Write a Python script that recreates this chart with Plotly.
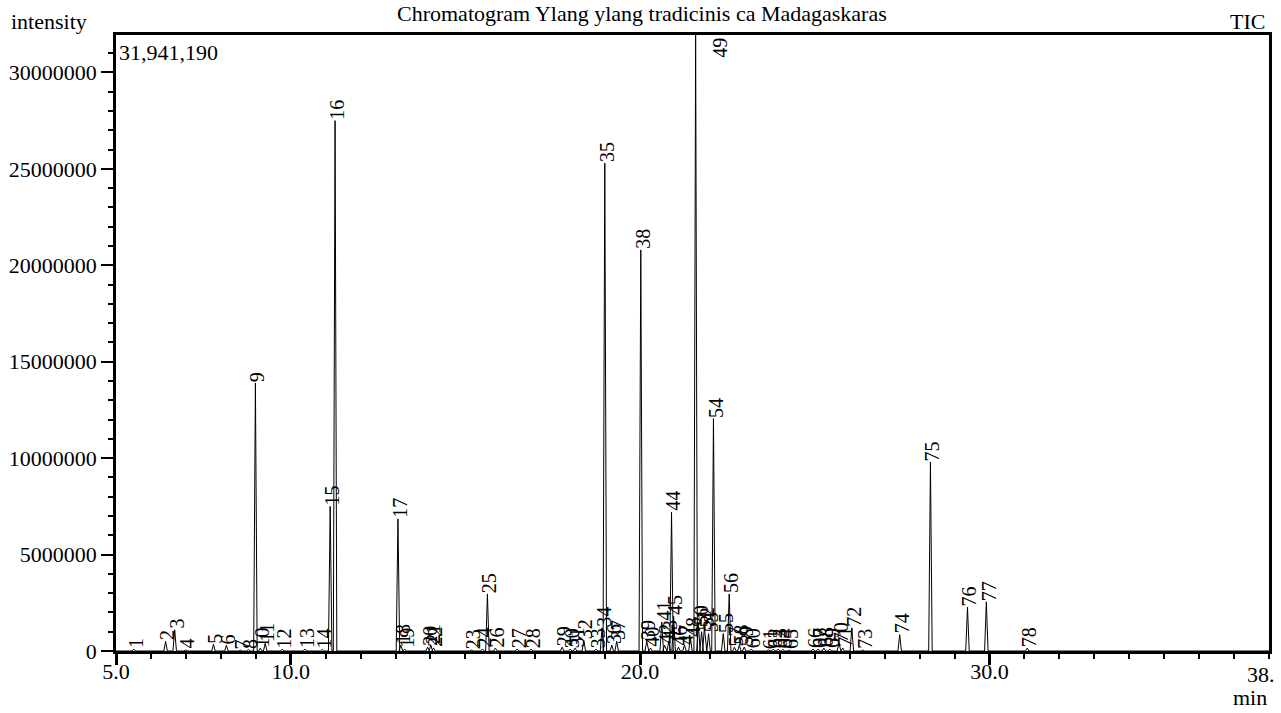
import plotly.graph_objects as go

# ---- data ----
peak_labels = [str(i) for i in range(1, 79)]
peak_rt = [5.51, 6.42, 6.68, 6.99, 7.79, 8.16, 8.56, 8.79, 8.99, 9.13,
           9.27, 9.76, 10.41, 10.90, 11.13, 11.27, 13.07, 13.15, 13.26, 13.92,
           14.01, 14.09, 15.17, 15.49, 15.63, 15.86, 16.48, 16.88, 17.77, 18.00,
           18.14, 18.39, 18.74, 18.91, 18.99, 19.19, 19.33, 20.02, 20.19, 20.30,
           20.62, 20.70, 20.82, 20.90, 20.96, 21.10, 21.27, 21.44, 21.59, 21.67,
           21.76, 21.84, 21.96, 22.10, 22.38, 22.55, 22.70, 22.84, 22.98, 23.18,
           23.67, 23.81, 23.95, 24.09, 24.26, 24.95, 25.09, 25.26, 25.43, 25.69,
           25.80, 26.06, 26.37, 27.43, 28.31, 29.37, 29.91, 31.08]
peak_height = [100000, 500000, 1100000, 50000, 350000, 300000, 50000, 80000, 13900000, 150000,
               400000, 100000, 100000, 80000, 7500000, 27500000, 6850000, 300000, 100000, 200000,
               300000, 150000, 50000, 100000, 2960000, 150000, 100000, 100000, 200000, 100000,
               150000, 550000, 100000, 1200000, 25300000, 300000, 500000, 20800000, 500000, 150000,
               1500000, 300000, 500000, 7200000, 1800000, 200000, 300000, 700000, 31941190, 1300000,
               1000000, 1200000, 900000, 12050000, 900000, 2960000, 200000, 300000, 200000, 100000,
               50000, 100000, 100000, 80000, 50000, 100000, 100000, 150000, 100000, 400000,
               150000, 1200000, 50000, 850000, 9800000, 2280000, 2550000, 150000]

y_max = 31941190
x_tick_vals = [5, 10, 20, 30, 38]
x_tick_text = ["5.0", "10.0", "20.0", "30.0", ""]
x_last_label = "38."
y_tick_vals = [0, 5000000, 10000000, 15000000, 20000000, 25000000, 30000000]
y_tick_text = ["0", "5000000", "10000000", "15000000", "20000000", "25000000", "30000000"]
title_text = "Chromatogram Ylang ylang tradicinis ca Madagaskaras"

# ---- build chromatogram path from peaks ----
half_w = 0.05
xs, ys = [5.0], [0]
for rt, h in sorted(zip(peak_rt, peak_height)):
    xs += [rt - half_w, rt, rt + half_w]
    ys += [0, h, 0]
xs.append(38.0)
ys.append(0)

FONT = "Liberation Serif"
fig = go.Figure()
fig.add_trace(go.Scatter(x=xs, y=ys, mode="lines",
                         line=dict(color="black", width=1), hoverinfo="skip",
                         showlegend=False))

ann = []
for lab, rt, h in zip(peak_labels, peak_rt, peak_height):
    if h >= y_max:
        ann.append(dict(x=rt, y=h, xref="x", yref="y", text=lab, textangle=-90,
                        showarrow=False, xanchor="center", yanchor="top",
                        xshift=24, yshift=-1, font=dict(family=FONT, size=20, color="black")))
    else:
        ann.append(dict(x=rt, y=h, xref="x", yref="y", text=lab, textangle=-90,
                        showarrow=False, xanchor="center", yanchor="bottom",
                        xshift=2, yshift=-1, font=dict(family=FONT, size=20, color="black")))

ann += [
    dict(x=0.4564, y=1.0341, xref="paper", yref="paper", text=title_text, showarrow=False,
         xanchor="center", yanchor="middle", font=dict(family=FONT, size=22, color="black")),
    dict(x=-0.0925, y=1.0227, xref="paper", yref="paper", text="intensity", showarrow=False,
         xanchor="left", yanchor="middle", font=dict(family=FONT, size=22, color="black")),
    dict(x=0.9983, y=1.0227, xref="paper", yref="paper", text="TIC", showarrow=False,
         xanchor="right", yanchor="middle", font=dict(family=FONT, size=22, color="black")),
    dict(x=0.0, y=1.0, xref="paper", yref="paper", text=f"{y_max:,}", showarrow=False,
         xanchor="left", yanchor="top", xshift=1, yshift=-3,
         font=dict(family=FONT, size=22, color="black")),
    dict(x=1.0, y=-0.099, xref="paper", yref="paper", text="min", showarrow=False,
         xanchor="right", yanchor="bottom", font=dict(family=FONT, size=22, color="black")),
    dict(x=38, y=0, xref="x", yref="y", text=x_last_label, showarrow=False,
         xanchor="right", yanchor="top", xshift=8, yshift=-9,
         font=dict(family=FONT, size=22, color="black")),
]

fig.update_layout(
    width=1281, height=713,
    margin=dict(l=115, r=9, t=35, b=62),
    paper_bgcolor="white", plot_bgcolor="white",
    font=dict(family=FONT, size=22, color="black"),
    annotations=ann,
    xaxis=dict(range=[5, 38], showgrid=False, zeroline=False,
               showline=True, linecolor="black", linewidth=2.5, mirror=True,
               ticks="outside", ticklen=11, tickwidth=2.5, tickcolor="black",
               tickmode="array", tickvals=x_tick_vals, ticktext=x_tick_text,
               ticklabelstandoff=-12,
               tickfont=dict(family=FONT, size=22, color="black"),
               minor=dict(tickmode="array", tickvals=list(range(5, 39)), ticklen=5,
                          tickwidth=2, tickcolor="black", ticks="outside", showgrid=False)),
    yaxis=dict(range=[0, y_max], showgrid=False, zeroline=False,
               showline=True, linecolor="black", linewidth=2.5, mirror=True,
               ticks="outside", ticklen=12, tickwidth=2, tickcolor="black",
               tickmode="array", tickvals=y_tick_vals, ticktext=y_tick_text,
               tickfont=dict(family=FONT, size=22, color="black"),
               minor=dict(tickmode="array", tickvals=list(range(0, 32000000, 1000000)),
                          ticklen=5, tickwidth=2, tickcolor="black", ticks="outside",
                          showgrid=False)),
)

fig.write_html("out.html", config={"displayModeBar": False},
               post_script="document.body.style.margin='0';document.body.style.overflow='hidden';")
